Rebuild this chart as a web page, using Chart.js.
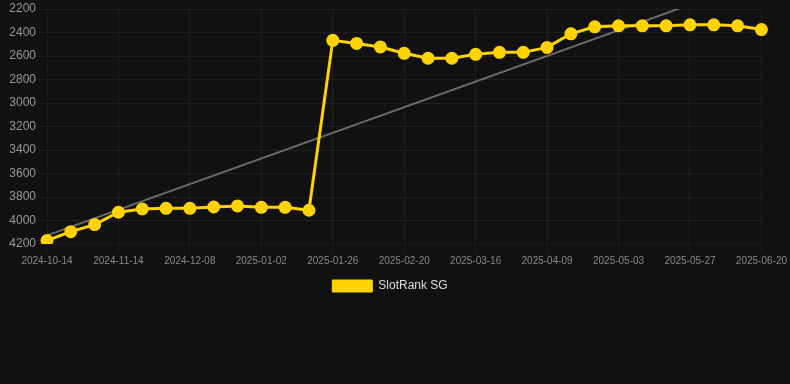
<!DOCTYPE html>
<html>
<head>
<meta charset="utf-8">
<script src="https://cdn.jsdelivr.net/npm/chart.js@4"></script>
<style>
  html, body { margin: 0; padding: 0; background: #111111; }
  #wrap { width: 790px; height: 302px; }
</style>
</head>
<body>
<div id="wrap"><canvas id="myChart"></canvas></div>
<script>
  // DATA
  const dates = [
    '2024-10-14', '2024-10-24', '2024-11-03', '2024-11-14', '2024-11-22', '2024-11-30',
    '2024-12-08', '2024-12-16', '2024-12-24', '2025-01-02', '2025-01-10', '2025-01-18',
    '2025-01-26', '2025-02-03', '2025-02-11', '2025-02-20', '2025-02-28', '2025-03-08',
    '2025-03-16', '2025-03-24', '2025-04-01', '2025-04-09', '2025-04-17', '2025-04-25',
    '2025-05-03', '2025-05-11', '2025-05-19', '2025-05-27', '2025-06-04', '2025-06-12',
    '2025-06-20'
  ];
  const rank = [
    4170, 4095, 4035, 3930, 3902, 3896, 3896, 3885, 3876, 3888, 3888, 3913,
    2467, 2493, 2523, 2577, 2619, 2619, 2586, 2569, 2569, 2527, 2411, 2352,
    2343, 2343, 2343, 2335, 2335, 2343, 2375
  ];
  // trend line end points (first and last category)
  const trendStart = 4127;
  const trendEnd = 1945;

  const trend = dates.map((d, i) => (i === 0 ? trendStart : (i === dates.length - 1 ? trendEnd : null)));

  const data = {
    labels: dates,
    datasets: [
      {
        label: 'SlotRank SG',
        data: rank,
        borderColor: '#FFD300',
        backgroundColor: '#FFD300',
        borderWidth: 3,
        pointRadius: 5,
        pointHoverRadius: 6,
        tension: 0
      },
      {
        label: 'trend',
        data: trend,
        borderColor: 'rgba(130, 130, 130, 0.8)',
        borderWidth: 2,
        pointRadius: 0,
        spanGaps: true,
        tension: 0
      }
    ]
  };

  const defaultLabels = Chart.defaults.plugins.legend.labels.generateLabels;

  const config = {
    type: 'line',
    data,
    options: {
      responsive: true,
      maintainAspectRatio: false,
      animation: false,
      layout: {
        padding: { right: 10 }
      },
      plugins: {
        legend: {
          position: 'bottom',
          labels: {
            color: '#dddddd',
            boxWidth: 40,
            boxHeight: 12,
            font: { size: 12, family: 'Arial, "Liberation Sans", sans-serif' },
            generateLabels: chart => defaultLabels(chart).map(l => Object.assign(l, { lineWidth: 1 })),
            filter: item => item.text !== 'trend'
          }
        },
        tooltip: { enabled: false }
      },
      scales: {
        x: {
          grid: { color: 'rgba(255, 255, 255, 0.06)' },
          ticks: {
            color: '#888888',
            maxRotation: 0,
            autoSkip: true,
            maxTicksLimit: 11,
            font: { size: 10, family: 'Arial, "Liberation Sans", sans-serif' }
          }
        },
        y: {
          reverse: true,
          min: 2200,
          max: 4200,
          grid: { color: 'rgba(255, 255, 255, 0.06)' },
          afterFit: axis => {
            axis.width = 47;
            axis.paddingTop = 4;
          },
          ticks: {
            stepSize: 200,
            color: '#999999',
            font: { size: 12, family: 'Arial, "Liberation Sans", sans-serif' },
            callback: v => String(v)
          }
        }
      }
    }
  };

  var myChart = new Chart(document.getElementById('myChart'), config);
</script>
</body>
</html>
